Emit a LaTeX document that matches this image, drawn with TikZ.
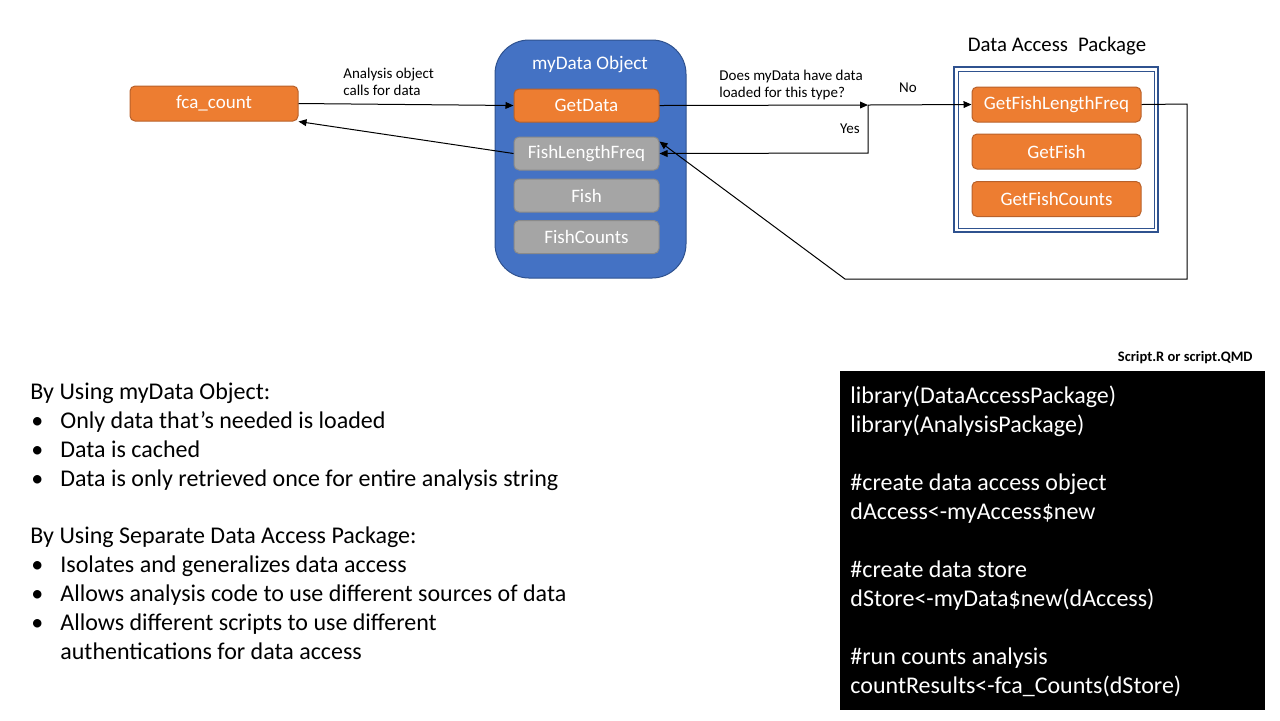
\documentclass[tikz,border=0pt]{standalone}
\usepackage{fontspec}
\setmainfont{Carlito}
\usetikzlibrary{arrows.meta}
\definecolor{myorange}{HTML}{ED7D31}
\definecolor{myorangedark}{HTML}{B8612A}
\definecolor{myblue}{HTML}{4472C4}
\definecolor{mybluedark}{HTML}{2F528F}
\definecolor{mygrey}{HTML}{A5A5A5}
\definecolor{mygreydark}{HTML}{8A8A8A}
\begin{document}
\begin{tikzpicture}[x=0.5pt,y=-0.5pt,
  boxbase/.style={rectangle, rounded corners=2.5pt, text=white, inner sep=0pt,
    font=\fontsize{9.5}{11}\selectfont, line width=0.5pt},
  orangebox/.style={boxbase, fill=myorange, draw=myorangedark},
  greybox/.style={boxbase, fill=mygrey, draw=mygreydark, minimum width=72.5pt, minimum height=16.5pt},
  lbl/.style={font=\fontsize{7.5}{8.5}\selectfont, align=left, inner sep=0pt},
  conn/.style={line width=0.5pt, -{Triangle[length=4pt,width=3.4pt]}},
  bigtext/.style={font=\fontsize{12}{14.5}\selectfont, anchor=base west, inner sep=0pt},
  codetext/.style={font=\fontsize{12}{14.5}\selectfont, anchor=base west, inner sep=0pt, text=white}
]
\useasboundingbox (0,0) rectangle (1280,720);

% left node
\node[orangebox, minimum width=84pt, minimum height=17.5pt] (fca) at (214,103.5) {fca\_count};

% myData object container
\node[rectangle, rounded corners=17pt, fill=myblue, draw=mybluedark, line width=0.5pt,
  minimum width=95.5pt, minimum height=119pt] (mydata) at (590.5,159) {};
\node[font=\fontsize{9.6}{11}\selectfont, text=white, inner sep=0pt] (mytitle) at (590,64) {myData Object};
\node[orangebox, minimum width=72.5pt, minimum height=16.5pt] (getdata) at (586.5,105.5) {GetData};
\node[greybox] (flf) at (586.5,153.5) {FishLengthFreq};
\node[greybox] (fish) at (586.5,195.5) {Fish};
\node[greybox] (fishc) at (586.5,237) {FishCounts};

% Data access package
\node[rectangle, draw=mybluedark, line width=1pt, minimum width=102pt, minimum height=82.5pt, inner sep=0pt] (dap) at (1056,149.5) {};
\node[rectangle, draw=mybluedark, line width=0.5pt, minimum width=98pt, minimum height=78.5pt, inner sep=0pt] (dapin) at (1056,149.5) {};
\node[font=\fontsize{10.4}{12}\selectfont, inner sep=0pt] (daptitle) at (1057,46) {Data Access\hspace{0.25em} Package};
\node[orangebox, minimum width=84.5pt, minimum height=17.5pt] (gflf) at (1056.5,104.5) {GetFishLengthFreq};
\node[orangebox, minimum width=84.5pt, minimum height=17.5pt] (gf) at (1056.5,151.5) {GetFish};
\node[orangebox, minimum width=84.5pt, minimum height=17.5pt] (gfc) at (1056.5,199) {GetFishCounts};

% labels
\node[lbl, anchor=west] (l1) at (343,81.5) {Analysis object\\calls for data};
\node[lbl, anchor=west] (l2) at (719,84.5) {Does myData have data\\loaded for this type?};
\node[lbl] (lno) at (908,88) {No};
\node[lbl] (lyes) at (850,129) {Yes};

% connectors
\coordinate (junc) at (868,105);
\coordinate (jdown) at (868,153);
\coordinate (r1) at (1187,104);
\coordinate (r2) at (1187,279);
\coordinate (r3) at (845,279);
\draw[conn] (fca.east) -- (getdata.west);
\draw[conn] (flf.west) -- (fca.south east);
\draw[conn] (getdata.east) -- (junc);
\draw[conn] (junc) -- (gflf.west);
\draw[conn] (junc) -- (jdown) -- (flf.east);
\draw[conn] (gflf.east) -- (r1) -- (r2) -- (r3) -- ([yshift=6pt]flf.east);

% bottom left text
\node[bigtext] (t1) at (30,399) {By Using myData Object:};
\node[bigtext] (b1) at (31,428) {•}; \node[bigtext] (t2) at (60,428) {Only data that’s needed is loaded};
\node[bigtext] (b2) at (31,457) {•}; \node[bigtext] (t3) at (60,457) {Data is cached};
\node[bigtext] (b3) at (31,486) {•}; \node[bigtext] (t4) at (60,486) {Data is only retrieved once for entire analysis string};
\node[bigtext] (t5) at (30,543) {By Using Separate Data Access Package:};
\node[bigtext] (b4) at (31,572) {•}; \node[bigtext] (t6) at (60,572) {Isolates and generalizes data access};
\node[bigtext] (b5) at (31,601) {•}; \node[bigtext] (t7) at (60,601) {Allows analysis code to use different sources of data};
\node[bigtext] (b6) at (31,630) {•}; \node[bigtext] (t8) at (60,630) {Allows different scripts to use different};
\node[bigtext] (t9) at (60,659) {authentications for data access};

% script box
\node[font=\fontsize{7.25}{8}\selectfont\bfseries, anchor=east, inner sep=0pt] (scr) at (1253,358) {Script.R or script.QMD};
\node[rectangle, fill=black, minimum width=212.5pt, minimum height=169.5pt, inner sep=0pt, anchor=north west] (code) at (840,371) {};
\node[codetext] (c1) at (850,403) {library(DataAccessPackage)};
\node[codetext] (c2) at (850,432) {library(AnalysisPackage)};
\node[codetext] (c3) at (850,490) {\#create data access object};
\node[codetext] (c4) at (850,519) {dAccess<-myAccess\$new};
\node[codetext] (c5) at (850,577) {\#create data store};
\node[codetext] (c6) at (850,606) {dStore<-myData\$new(dAccess)};
\node[codetext] (c7) at (850,664) {\#run counts analysis};
\node[codetext] (c8) at (850,693) {countResults<-fca\_Counts(dStore)};
\end{tikzpicture}
\end{document}
